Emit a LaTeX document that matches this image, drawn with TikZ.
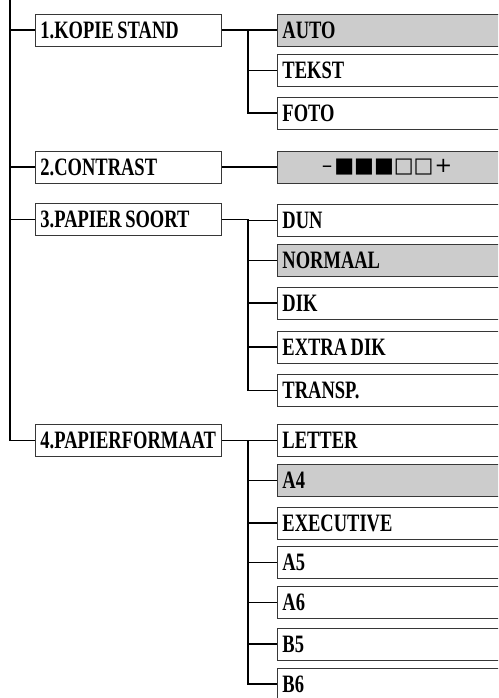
\documentclass[tikz,border=0pt]{standalone}
\usepackage{fontspec}
\setmainfont{Liberation Serif}[FakeStretch=0.74]
\newfontfamily\symfont{DejaVu Sans}
\usetikzlibrary{positioning,calc}
\definecolor{selgrey}{RGB}{204,204,204}
\definecolor{edgegrey}{RGB}{55,55,55}
\DeclareRobustCommand\tightwords{\spaceskip=3.5pt plus 1pt\relax}
\tikzset{
  menubox/.style={draw=edgegrey,line width=.9pt,fill=white,anchor=west,
    minimum height=32pt,inner xsep=5pt,inner ysep=0pt,text height=16.5pt,
    text depth=0pt,align=left,font=\fontsize{25}{25}\selectfont\bfseries,
    execute at begin node=\tightwords},
  mainitem/.style={menubox,text width=176pt},
  subitem/.style={menubox,text width=224pt},
  chosen/.style={subitem,fill=selgrey},
  link/.style={draw=black,line width=1.4pt},
}

\begin{document}
\begin{tikzpicture}[x=1pt,y=-1pt]
  \clip (0,0) rectangle (498,698);
  \coordinate (trunk) at (10,-2);
  \coordinate (fork) at (248,0);
  % first level
  \node[mainitem] (kopie)    at (35,30)    {1.KOPIE STAND};
  \node[mainitem] (contrast) at (35,167)   {2.CONTRAST};
  \node[mainitem] (soort)    at (35,219.5) {3.PAPIER SOORT};
  \node[mainitem] (formaat)  at (35,440.5) {4.PAPIERFORMAAT};
  % second level
  \foreach \n/\yy/\lbl/\st in {auto/30/AUTO/chosen, tekst/70.5/TEKST/subitem,
      foto/113/FOTO/subitem, level/167/{}/chosen,
      dun/220.5/DUN/subitem, normaal/260.5/NORMAAL/chosen, dik/303/DIK/subitem,
      extra/347/EXTRA DIK/subitem, transp/390.5/TRANSP./subitem,
      letter/440.5/LETTER/subitem, afour/480.5/A4/chosen,
      exec/523/EXECUTIVE/subitem, afive/562.5/A5/subitem,
      asix/602.5/A6/subitem, bfive/644/B5/subitem, bsix/684/B6/subitem}
    {\node[\st] (\n) at (277,\yy) {\lbl};}
  \node[font=\symfont\fontsize{21}{21}\selectfont,inner sep=0pt] (scale)
    at (387,167) {–\kern2pt■■■□□\kern1pt+};
  % trunk
  \draw[link] (trunk) |- (formaat.west);
  \foreach \n in {kopie,contrast,soort}
    {\draw[link] (\n.west) -- (\n.west -| trunk);}
  % branches
  \draw[link] (contrast.east) -- (level.west);
  \draw[link] (kopie.east) -- (kopie.east -| fork) |- (foto.west);
  \draw[link] (soort.east) -- (soort.east -| fork) |- (transp.west);
  \draw[link] (formaat.east) -- (formaat.east -| fork) |- (bsix.west);
  \foreach \n in {auto,tekst,dun,normaal,dik,extra,letter,afour,exec,afive,asix,bfive}
    {\draw[link] (\n.west) -- (\n.west -| fork);}
\end{tikzpicture}
\end{document}
